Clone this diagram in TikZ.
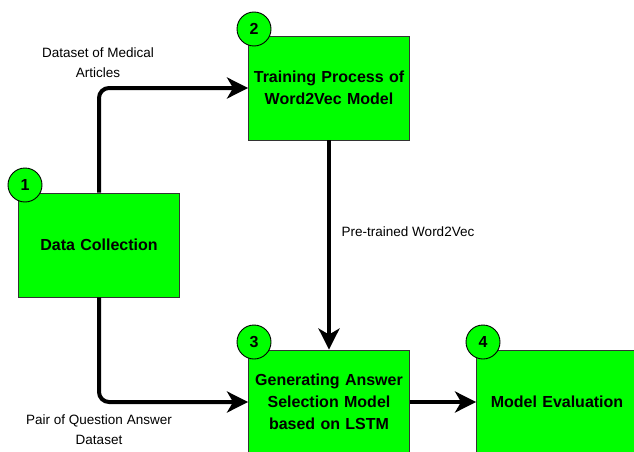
\documentclass[tikz,border=0pt]{standalone}
\usepackage{fontspec}
\setmainfont{Liberation Sans}
\usepackage{xcolor}
\usepackage{tikz}
\usetikzlibrary{arrows.meta}
\definecolor{stepgreen}{HTML}{00FF00}
\tikzstyle{every node}=[font=\fontsize{13.5}{20}\selectfont]
\tikzstyle{stepbox}=[draw=black!80, line width=0.9pt, fill=stepgreen, minimum width=161pt, minimum height=104pt, text width=158pt, align=center, inner sep=0pt, font=\bfseries\fontsize{16}{22}\selectfont]
\tikzstyle{stepnum}=[circle, draw=black, line width=0.9pt, fill=stepgreen, minimum size=34pt, inner sep=0pt, font=\bfseries\fontsize{16}{16}\selectfont]
\tikzstyle{flow}=[line width=4pt, rounded corners=10pt, -{Stealth[length=21pt, width=21pt, inset=6pt]}]
\tikzstyle{lbl}=[align=center]

\begin{document}
\begin{tikzpicture}[x=1pt, y=-1pt]
\useasboundingbox (0,0) rectangle (634,452);

% steps
\node[stepbox] (data)  at (99,245)  {Data Collection};
\node[stepbox] (train) at (329,88)  {Training Process of\\Word2Vec Model};
\node[stepbox] (gen)   at (329,402) {Generating Answer\\Selection Model\\based on LSTM};
\node[stepbox] (eval)  at (557,402) {Model Evaluation};

\node[stepnum] (n1) at (25,185)  {1};
\node[stepnum] (n2) at (254,29)  {2};
\node[stepnum] (n3) at (254,342) {3};
\node[stepnum] (n4) at (483,342) {4};

% connectors
\draw[flow] (data.north) |- (train.west);
\draw[flow] (data.south) |- (gen.west);
\draw[flow] (train.south) -- (gen.north);
\draw[flow] (gen.east) -- (eval.west);

\node[lbl] (medical) at (98,63)  {Dataset of Medical\\Articles};
\node[lbl] (pairs)   at (99,430) {Pair of Question Answer\\Dataset};
\node[lbl] (pretrain) at (408,232) {Pre-trained Word2Vec};

\end{tikzpicture}
\end{document}
